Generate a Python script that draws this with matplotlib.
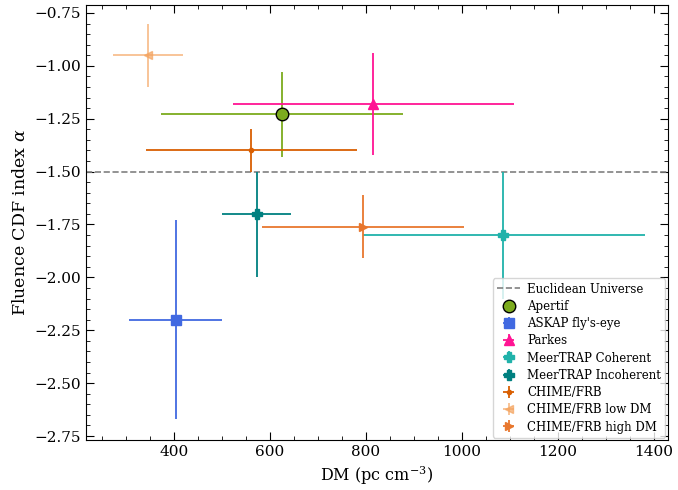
import numpy as np
import matplotlib.pyplot as plt
from matplotlib.ticker import MultipleLocator

plt.rcParams['font.family'] = 'DejaVu Serif'
plt.rcParams['mathtext.fontset'] = 'dejavuserif'

# survey results: DM, alpha and their errors
labels = ['Apertif', "ASKAP fly's-eye", 'Parkes', 'MeerTRAP Coherent',
          'MeerTRAP Incoherent', 'CHIME/FRB', 'CHIME/FRB low DM', 'CHIME/FRB high DM']
dm = [625, 404, 815, 1085, 573, 560, 346, 794]
dm_lo = [253, 98, 292, 291, 72, 218, 73, 210]
dm_hi = [252, 97, 293, 296, 71, 221, 73, 210]
alpha = [-1.23, -2.20, -1.18, -1.80, -1.70, -1.40, -0.95, -1.76]
alpha_lo = [0.20, 0.47, 0.24, 0.30, 0.30, 0.10, 0.15, 0.15]
alpha_hi = [0.20, 0.47, 0.24, 0.30, 0.20, 0.10, 0.15, 0.15]

colors = ['#7cab1e', '#4169e1', '#ff1493', '#20b2aa', '#008080', '#d95f02', '#f4a460', '#e8772e']
markers = ['o', 's', '^', 'P', 'P', '.', '<', '>']
sizes = [9, 6.5, 7, 6.5, 6.5, 6, 6, 6]
alphas = [1, 1, 1, 1, 1, 1, 0.7, 1]

fig, ax = plt.subplots(figsize=(6.78, 4.9), dpi=100)
fig.subplots_adjust(left=0.127, right=0.985, top=0.99, bottom=0.102)

ax.axhline(-1.5, color='grey', ls='--', lw=1.2, label='Euclidean Universe')
for i in range(len(labels)):
    mec = 'black' if markers[i] == 'o' else colors[i]
    ax.errorbar(dm[i], alpha[i], xerr=[[dm_lo[i]], [dm_hi[i]]],
                yerr=[[alpha_lo[i]], [alpha_hi[i]]], fmt=markers[i],
                color=colors[i], ms=sizes[i], mec=mec, lw=1.3,
                alpha=alphas[i], label=labels[i])

ax.set_xlim(217, 1429)
ax.set_ylim(-2.769, -0.712)
ax.xaxis.set_minor_locator(MultipleLocator(50))
ax.yaxis.set_minor_locator(MultipleLocator(0.05))
ax.tick_params(which='both', direction='in', top=True, right=True)
ax.tick_params(which='major', length=6, labelsize=11)
ax.tick_params(which='minor', length=3)

ax.set_xlabel(r'DM (pc cm$^{-3}$)', fontsize=11.5)
ax.set_ylabel(r'Fluence CDF index $\alpha$', fontsize=12.5)
ax.legend(loc='lower right', fontsize=8.5, handlelength=2.0, labelspacing=0.36,
          borderaxespad=0.2, borderpad=0.35, handletextpad=0.6)

fig.savefig('out.png', dpi=100)
